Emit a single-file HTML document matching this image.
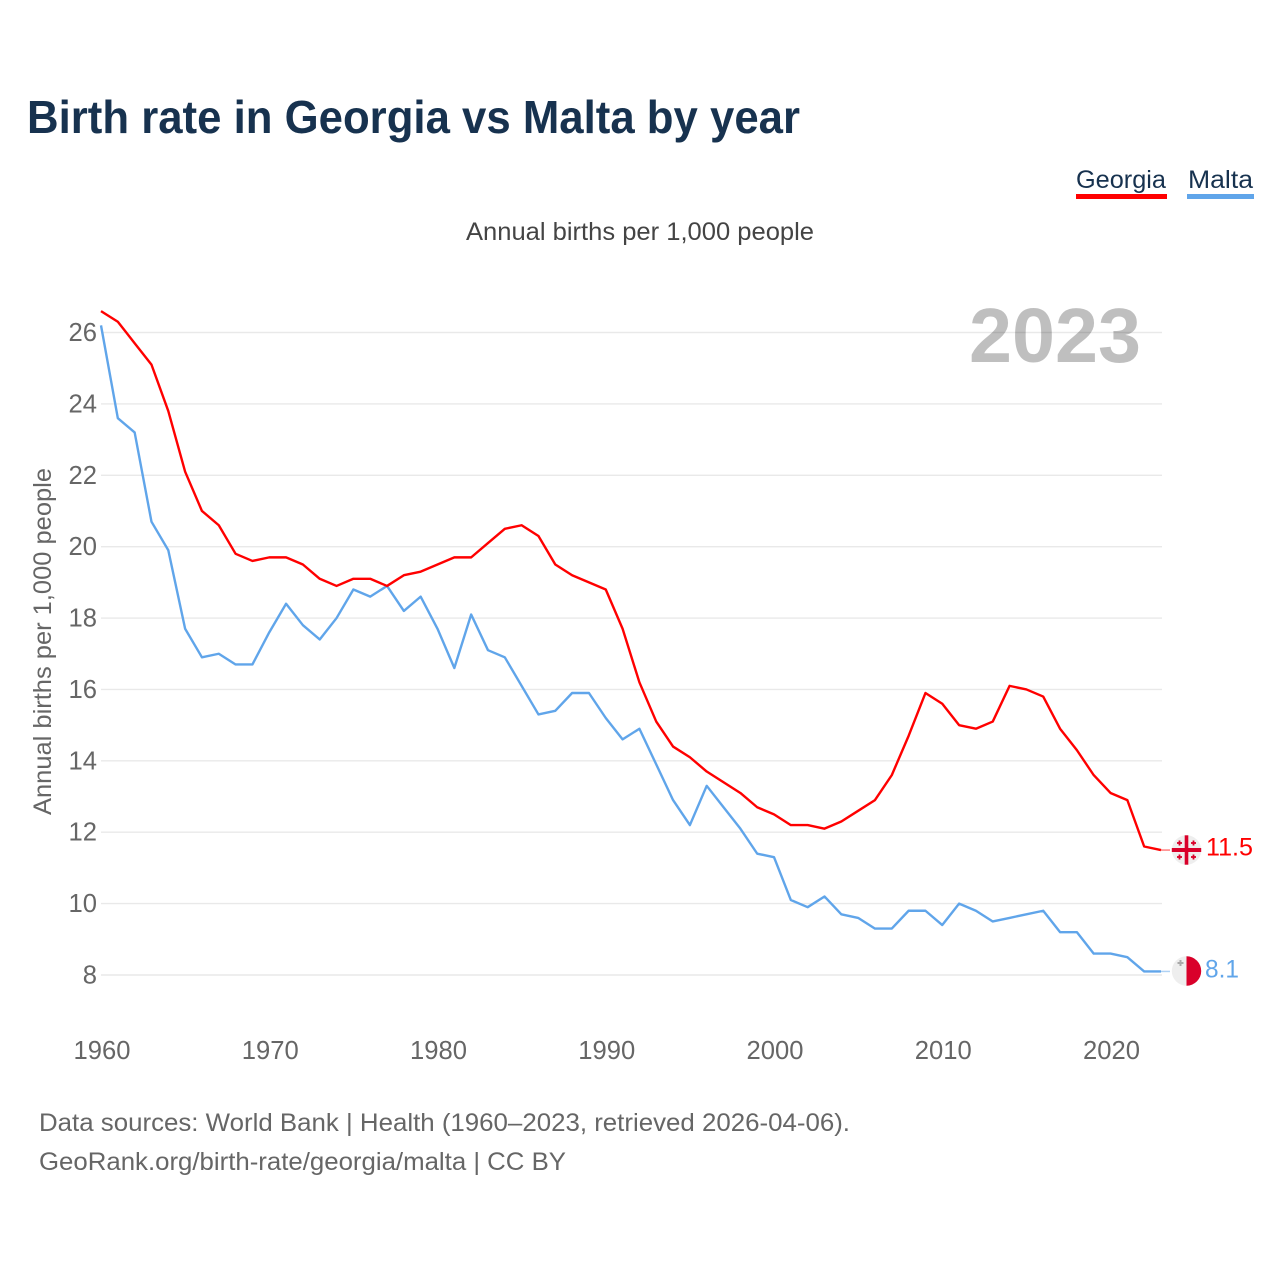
<!DOCTYPE html>
<html lang="en">
<head>
<meta charset="utf-8">
<title>Birth rate in Georgia vs Malta by year</title>
<style>
html,body{margin:0;padding:0;background:#fff;}
svg{display:block;font-family:"Liberation Sans",sans-serif;}
</style>
</head>
<body>
<svg id="chart" xmlns="http://www.w3.org/2000/svg" width="1280" height="1280" viewBox="0 0 1280 1280">
  <rect x="0" y="0" width="1280" height="1280" fill="#ffffff"/>
  <text x="27" y="133" font-size="46" font-weight="700" fill="#17324f" textLength="773" lengthAdjust="spacingAndGlyphs">Birth rate in Georgia vs Malta by year</text>

  <g>
    <g>
      <text x="1076" y="188" font-size="25" fill="#17324f" textLength="90" lengthAdjust="spacingAndGlyphs">Georgia</text>
      <rect x="1076" y="194" width="91" height="5" fill="#ff0000"/>
    </g>
    <g>
      <text x="1188" y="188" font-size="25" fill="#17324f" textLength="65" lengthAdjust="spacingAndGlyphs">Malta</text>
      <rect x="1187" y="194" width="67" height="5" fill="#60a5ea"/>
    </g>
  </g>

  <text x="466" y="240" font-size="25" fill="#444444" textLength="348" lengthAdjust="spacingAndGlyphs">Annual births per 1,000 people</text>
  <text transform="translate(51 815) rotate(-90)" x="0" y="0" font-size="25" fill="#666666" textLength="347" lengthAdjust="spacingAndGlyphs">Annual births per 1,000 people</text>

  <g id="grid"></g>
  <g id="yticks"></g>
  <g id="xticks"></g>

  <text x="969" y="362" font-size="77" font-weight="700" fill="#000000" fill-opacity="0.25" textLength="172" lengthAdjust="spacingAndGlyphs">2023</text>

  <path id="line-malta" fill="none" stroke="#60a5ea" stroke-width="2.4" stroke-linejoin="round"/>
  <path id="line-georgia" fill="none" stroke="#ff0000" stroke-width="2.4" stroke-linejoin="round"/>
  <line id="lead-georgia" stroke="#ff0000" stroke-opacity="0.5" stroke-width="1.5"/>
  <line id="lead-malta" stroke="#60a5ea" stroke-opacity="0.5" stroke-width="1.5"/>

  <g transform="translate(1186.5 850)">
    <circle r="14.7" fill="#eeeeee"/>
    <rect x="-1.8" y="-14.7" width="3.6" height="29.4" fill="#d9002a"/>
    <rect x="-14.7" y="-2" width="29.4" height="4" fill="#d9002a"/>
    <g fill="#d9002a">
      <rect x="-7.9" y="-9.5" width="1.8" height="5"/><rect x="-9.5" y="-7.9" width="5" height="1.8"/>
      <rect x="6.1" y="-9.5" width="1.8" height="5"/><rect x="4.5" y="-7.9" width="5" height="1.8"/>
      <rect x="-7.9" y="4.5" width="1.8" height="5"/><rect x="-9.5" y="6.1" width="5" height="1.8"/>
      <rect x="6.1" y="4.5" width="1.8" height="5"/><rect x="4.5" y="6.1" width="5" height="1.8"/>
    </g>
  </g>
  <g transform="translate(1186.5 971)">
    <circle r="14.7" fill="#eeeeee"/>
    <path d="M0 -14.7 A14.7 14.7 0 0 1 0 14.7 Z" fill="#d9002a"/>
    <rect x="-7" y="-11" width="2" height="6" fill="#aaaaaa"/>
    <rect x="-9" y="-9" width="6" height="2" fill="#aaaaaa"/>
  </g>

  <text x="1206" y="855.5" font-size="25" fill="#ff0000" textLength="47" lengthAdjust="spacingAndGlyphs">11.5</text>
  <text x="1205" y="977.5" font-size="25" fill="#60a5ea" textLength="34" lengthAdjust="spacingAndGlyphs">8.1</text>

  <text x="39" y="1131" font-size="25" fill="#666666" textLength="811" lengthAdjust="spacingAndGlyphs">Data sources: World Bank | Health (1960–2023, retrieved 2026-04-06).</text>
  <text x="39" y="1170" font-size="25" fill="#666666" textLength="527" lengthAdjust="spacingAndGlyphs">GeoRank.org/birth-rate/georgia/malta | CC BY</text>
</svg>
<script>
const firstYear = 1960;
const georgiaValues = [26.6,26.3,25.7,25.1,23.8,22.1,21.0,20.6,19.8,19.6,19.7,19.7,19.5,19.1,18.9,19.1,19.1,18.9,19.2,19.3,19.5,19.7,19.7,20.1,20.5,20.6,20.3,19.5,19.2,19.0,18.8,17.7,16.2,15.1,14.4,14.1,13.7,13.4,13.1,12.7,12.5,12.2,12.2,12.1,12.3,12.6,12.9,13.6,14.7,15.9,15.6,15.0,14.9,15.1,16.1,16.0,15.8,14.9,14.3,13.6,13.1,12.9,11.6,11.5];
const maltaValues = [26.2,23.6,23.2,20.7,19.9,17.7,16.9,17.0,16.7,16.7,17.6,18.4,17.8,17.4,18.0,18.8,18.6,18.9,18.2,18.6,17.7,16.6,18.1,17.1,16.9,16.1,15.3,15.4,15.9,15.9,15.2,14.6,14.9,13.9,12.9,12.2,13.3,12.7,12.1,11.4,11.3,10.1,9.9,10.2,9.7,9.6,9.3,9.3,9.8,9.8,9.4,10.0,9.8,9.5,9.6,9.7,9.8,9.2,9.2,8.6,8.6,8.5,8.1,8.1];
const yTickValues = [8,10,12,14,16,18,20,22,24,26];
const xTickValues = [1960,1970,1980,1990,2000,2010,2020];

const NS = 'http://www.w3.org/2000/svg';
function xScale(year){ return 101 + (year - 1960) * (1161 - 101) / 63; }
function yScale(v){ return 975 - (v - 8) * (975 - 332.5) / 18; }
function linePath(values){
  return values.map(function(v, i){
    return (i ? 'L' : 'M') + xScale(firstYear + i).toFixed(2) + ' ' + yScale(v).toFixed(2);
  }).join(' ');
}

const grid = document.getElementById('grid');
const yticks = document.getElementById('yticks');
yTickValues.forEach(function(v){
  const l = document.createElementNS(NS, 'line');
  
  
  l.setAttribute('x1', 101);
  l.setAttribute('x2', 1162);
  l.setAttribute('y1', yScale(v));
  l.setAttribute('y2', yScale(v));
  l.setAttribute('stroke', '#e9e9e9');
  l.setAttribute('stroke-width', '1.4');
  grid.appendChild(l);
  const t = document.createElementNS(NS, 'text');
  
  
  t.setAttribute('x', 97);
  t.setAttribute('y', yScale(v) + 8.5);
  t.setAttribute('text-anchor', 'end');
  t.setAttribute('font-size', '25.6');
  t.setAttribute('fill', '#666666');
  t.textContent = v;
  yticks.appendChild(t);
});

const xticks = document.getElementById('xticks');
xTickValues.forEach(function(y){
  const t = document.createElementNS(NS, 'text');
  
  
  t.setAttribute('x', xScale(y) + 1);
  t.setAttribute('y', 1059);
  t.setAttribute('text-anchor', 'middle');
  t.setAttribute('font-size', '25.6');
  t.setAttribute('fill', '#666666');
  t.textContent = y;
  xticks.appendChild(t);
});

document.getElementById('line-georgia').setAttribute('d', linePath(georgiaValues));
document.getElementById('line-malta').setAttribute('d', linePath(maltaValues));

[['lead-georgia', georgiaValues], ['lead-malta', maltaValues]].forEach(function(pair){
  const lead = document.getElementById(pair[0]);
  const yEnd = yScale(pair[1][pair[1].length - 1]);
  lead.setAttribute('x1', xScale(2023));
  lead.setAttribute('x2', 1170);
  lead.setAttribute('y1', yEnd);
  lead.setAttribute('y2', yEnd);
});
</script>
</body>
</html>
